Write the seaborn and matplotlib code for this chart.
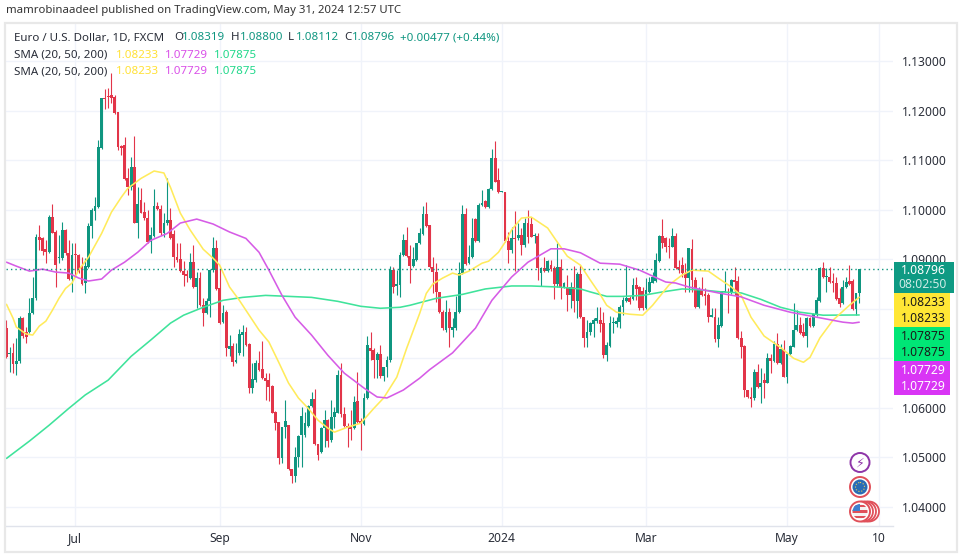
import numpy as np
import pandas as pd
import matplotlib
matplotlib.use("Agg")
import matplotlib.pyplot as plt
from matplotlib.patches import Rectangle, Circle
import seaborn as sns

# daily candles, EUR/USD Jun 2023 - May 2024
opens = [1.0761,1.0708,1.0710,1.0688,1.0694,1.0781,1.0753,1.0753,1.0791,1.0821,
1.0944,1.0942,1.0920,1.0914,1.0985,1.0954,1.0902,1.0902,1.0959,1.0912,
1.0860,1.0910,1.0908,1.0884,1.0852,1.0884,1.0967,1.0997,1.1005,1.1124,
1.1225,1.1229,1.1231,1.1227,1.1197,1.1128,1.1130,1.1063,1.1045,1.1086,
1.0973,1.1019,1.0995,1.0983,1.0934,1.0946,1.1007,1.1001,1.0952,1.0973,
1.0979,1.0950,1.0904,1.0900,1.0876,1.0870,1.0862,1.0894,1.0843,1.0862,
1.0807,1.0791,1.0815,1.0878,1.0922,1.0841,1.0773,1.0793,1.0718,1.0724,
1.0692,1.0710,1.0747,1.0753,1.0728,1.0640,1.0656,1.0690,1.0678,1.0660,
1.0656,1.0644,1.0591,1.0571,1.0498,1.0561,1.0565,1.0476,1.0462,1.0500,
1.0545,1.0545,1.0563,1.0603,1.0617,1.0527,1.0510,1.0559,1.0575,1.0535,
1.0581,1.0589,1.0666,1.0587,1.0563,1.0561,1.0559,1.0613,1.0573,1.0567,
1.0620,1.0720,1.0716,1.0696,1.0708,1.0664,1.0682,1.0696,1.0878,1.0845,
1.0848,1.0908,1.0938,1.0906,1.0886,1.0898,1.0932,1.0950,1.0991,1.0969,
1.0884,1.0874,1.0833,1.0793,1.0757,1.0793,1.0757,1.0761,1.0793,1.0872,
1.0991,1.0892,1.0904,1.0981,1.0936,1.1009,1.1017,1.1005,1.1041,1.1104,
1.1059,1.1035,1.1035,1.0936,1.0918,1.0942,1.0942,1.0948,1.0928,1.0973,
1.0971,1.0946,1.0946,1.0872,1.0882,1.0876,1.0888,1.0882,1.0850,1.0884,
1.0843,1.0841,1.0827,1.0843,1.0815,1.0870,1.0783,1.0741,1.0753,1.0769,
1.0775,1.0777,1.0771,1.0706,1.0724,1.0771,1.0769,1.0773,1.0803,1.0815,
1.0821,1.0819,1.0848,1.0843,1.0835,1.0801,1.0833,1.0852,1.0856,1.0896,
1.0946,1.0942,1.0926,1.0924,1.0946,1.0884,1.0888,1.0872,1.0862,1.0920,
1.0858,1.0803,1.0837,1.0829,1.0827,1.0783,1.0783,1.0739,1.0765,1.0833,
1.0833,1.0831,1.0858,1.0856,1.0741,1.0724,1.0636,1.0622,1.0620,1.0672,
1.0642,1.0656,1.0650,1.0700,1.0694,1.0728,1.0690,1.0718,1.0662,1.0708,
1.0722,1.0757,1.0767,1.0753,1.0745,1.0781,1.0765,1.0787,1.0815,1.0882,
1.0864,1.0864,1.0856,1.0852,1.0821,1.0811,1.0843,1.0856,1.0856,1.0799,
1.08319]
highs = [1.0777,1.0722,1.0730,1.0741,1.0785,1.0783,1.0763,1.0821,1.0864,1.0950,
1.0969,1.0944,1.0938,1.0989,1.1011,1.0959,1.0948,1.0975,1.0960,1.0938,
1.0932,1.0932,1.0910,1.0904,1.0902,1.0973,1.1003,1.1025,1.1140,1.1225,
1.1243,1.1245,1.1275,1.1231,1.1197,1.1130,1.1146,1.1084,1.1106,1.1148,
1.1045,1.1043,1.1015,1.0999,1.0965,1.1041,1.1015,1.1009,1.0993,1.1063,
1.1003,1.0959,1.0932,1.0932,1.0896,1.0878,1.0912,1.0928,1.0874,1.0874,
1.0821,1.0821,1.0880,1.0944,1.0938,1.0880,1.0807,1.0797,1.0747,1.0730,
1.0730,1.0759,1.0767,1.0763,1.0730,1.0690,1.0696,1.0714,1.0735,1.0670,
1.0670,1.0646,1.0593,1.0571,1.0561,1.0615,1.0565,1.0476,1.0521,1.0545,
1.0601,1.0591,1.0605,1.0632,1.0638,1.0527,1.0561,1.0595,1.0577,1.0615,
1.0601,1.0676,1.0690,1.0601,1.0569,1.0595,1.0624,1.0672,1.0579,1.0630,
1.0745,1.0753,1.0720,1.0712,1.0726,1.0682,1.0704,1.0886,1.0884,1.0878,
1.0914,1.0950,1.0965,1.0928,1.0924,1.0932,1.0963,1.1007,1.1015,1.0969,
1.0904,1.0892,1.0833,1.0797,1.0817,1.0801,1.0781,1.0825,1.0894,1.1009,
1.1003,1.0928,1.0983,1.0983,1.1013,1.1039,1.1019,1.1043,1.1122,1.1138,
1.1084,1.1037,1.1035,1.0954,1.0965,1.0997,1.0973,1.0963,1.0983,1.0999,
1.0985,1.0952,1.0952,1.0884,1.0904,1.0898,1.0898,1.0886,1.0932,1.0900,
1.0854,1.0868,1.0854,1.0886,1.0874,1.0888,1.0783,1.0777,1.0773,1.0781,
1.0803,1.0803,1.0793,1.0733,1.0785,1.0783,1.0783,1.0807,1.0823,1.0888,
1.0825,1.0862,1.0864,1.0845,1.0843,1.0862,1.0864,1.0874,1.0912,1.0948,
1.0981,1.0944,1.0942,1.0963,1.0952,1.0898,1.0904,1.0892,1.0922,1.0940,
1.0864,1.0843,1.0864,1.0841,1.0831,1.0801,1.0801,1.0783,1.0835,1.0876,
1.0841,1.0860,1.0884,1.0866,1.0755,1.0726,1.0636,1.0642,1.0678,1.0688,
1.0680,1.0670,1.0710,1.0708,1.0735,1.0751,1.0728,1.0737,1.0710,1.0726,
1.0811,1.0797,1.0783,1.0771,1.0783,1.0783,1.0791,1.0823,1.0884,1.0894,
1.0882,1.0884,1.0872,1.0864,1.0841,1.0858,1.0864,1.0888,1.0860,1.0831,
1.08800]
lows = [1.0701,1.0672,1.0670,1.0666,1.0690,1.0741,1.0730,1.0751,1.0789,1.0817,
1.0918,1.0908,1.0892,1.0912,1.0952,1.0843,1.0892,1.0898,1.0908,1.0858,
1.0833,1.0864,1.0872,1.0848,1.0831,1.0882,1.0942,1.0979,1.1003,1.1122,
1.1203,1.1205,1.1215,1.1193,1.1120,1.1110,1.1059,1.1029,1.1039,1.0973,
1.0942,1.0993,1.0979,1.0932,1.0912,1.0944,1.0999,1.0948,1.0944,1.0969,
1.0940,1.0884,1.0894,1.0874,1.0846,1.0854,1.0861,1.0841,1.0801,1.0805,
1.0765,1.0789,1.0783,1.0874,1.0837,1.0769,1.0771,1.0704,1.0704,1.0684,
1.0690,1.0706,1.0704,1.0724,1.0630,1.0630,1.0652,1.0674,1.0658,1.0615,
1.0613,1.0589,1.0555,1.0486,1.0488,1.0539,1.0474,1.0448,1.0450,1.0480,
1.0480,1.0541,1.0561,1.0601,1.0525,1.0494,1.0508,1.0521,1.0521,1.0531,
1.0559,1.0589,1.0581,1.0561,1.0521,1.0535,1.0557,1.0569,1.0515,1.0565,
1.0618,1.0696,1.0660,1.0660,1.0660,1.0654,1.0662,1.0692,1.0831,1.0827,
1.0823,1.0906,1.0905,1.0852,1.0884,1.0896,1.0930,1.0948,1.0965,1.0882,
1.0831,1.0813,1.0791,1.0757,1.0753,1.0722,1.0743,1.0757,1.0791,1.0870,
1.0888,1.0890,1.0902,1.0934,1.0934,1.1007,1.1003,1.1003,1.1039,1.1055,
1.1033,1.1035,1.0934,1.0892,1.0912,1.0876,1.0938,1.0908,1.0924,1.0932,
1.0944,1.0932,1.0858,1.0846,1.0874,1.0874,1.0876,1.0819,1.0843,1.0819,
1.0841,1.0795,1.0801,1.0793,1.0781,1.0781,1.0722,1.0722,1.0747,1.0743,
1.0771,1.0753,1.0700,1.0694,1.0722,1.0751,1.0763,1.0761,1.0787,1.0813,
1.0809,1.0817,1.0817,1.0797,1.0797,1.0799,1.0831,1.0852,1.0854,1.0894,
1.0922,1.0914,1.0902,1.0924,1.0880,1.0872,1.0864,1.0833,1.0833,1.0833,
1.0801,1.0801,1.0825,1.0807,1.0773,1.0783,1.0733,1.0722,1.0763,1.0833,
1.0791,1.0829,1.0827,1.0739,1.0700,1.0622,1.0620,1.0601,1.0615,1.0640,
1.0609,1.0620,1.0650,1.0670,1.0692,1.0688,1.0688,1.0662,1.0650,1.0706,
1.0722,1.0755,1.0749,1.0743,1.0722,1.0763,1.0763,1.0785,1.0813,1.0862,
1.0833,1.0852,1.0833,1.0817,1.0803,1.0809,1.0841,1.0848,1.0797,1.0787,
1.08112]
closes = [1.0702,1.0710,1.0688,1.0694,1.0781,1.0745,1.0743,1.0791,1.0821,1.0944,
1.0938,1.0916,1.0914,1.0985,1.0952,1.0888,1.0904,1.0959,1.0912,1.0860,
1.0908,1.0908,1.0874,1.0850,1.0886,1.0967,1.0999,1.1007,1.1126,1.1225,
1.1223,1.1227,1.1225,1.1195,1.1126,1.1124,1.1061,1.1045,1.1086,1.0973,
1.1011,1.0993,1.0983,1.0934,1.0948,1.1007,1.1001,1.0952,1.0973,1.0979,
1.0942,1.0904,1.0898,1.0876,1.0868,1.0866,1.0894,1.0843,1.0862,1.0807,
1.0791,1.0815,1.0878,1.0922,1.0839,1.0771,1.0791,1.0720,1.0724,1.0692,
1.0696,1.0749,1.0753,1.0726,1.0640,1.0658,1.0690,1.0676,1.0660,1.0654,
1.0642,1.0589,1.0569,1.0498,1.0561,1.0573,1.0476,1.0462,1.0500,1.0543,
1.0583,1.0569,1.0603,1.0617,1.0527,1.0504,1.0559,1.0575,1.0533,1.0581,
1.0591,1.0666,1.0587,1.0563,1.0561,1.0557,1.0611,1.0571,1.0569,1.0620,
1.0726,1.0714,1.0696,1.0708,1.0664,1.0682,1.0696,1.0878,1.0843,1.0850,
1.0908,1.0938,1.0906,1.0886,1.0900,1.0932,1.0952,1.0991,1.0967,1.0884,
1.0874,1.0833,1.0793,1.0761,1.0793,1.0761,1.0763,1.0793,1.0872,1.0991,
1.0890,1.0904,1.0942,1.0936,1.1009,1.1013,1.1005,1.1041,1.1104,1.1055,
1.1035,1.1037,1.0936,1.0918,1.0942,1.0940,1.0948,1.0928,1.0973,1.0944,
1.0944,1.0948,1.0882,1.0882,1.0876,1.0896,1.0880,1.0850,1.0884,1.0843,
1.0852,1.0827,1.0843,1.0815,1.0870,1.0783,1.0741,1.0753,1.0771,1.0777,
1.0781,1.0769,1.0706,1.0726,1.0771,1.0773,1.0775,1.0803,1.0817,1.0821,
1.0813,1.0848,1.0839,1.0801,1.0801,1.0837,1.0854,1.0864,1.0898,1.0946,
1.0932,1.0924,1.0924,1.0946,1.0882,1.0880,1.0872,1.0862,1.0922,1.0858,
1.0803,1.0837,1.0827,1.0825,1.0783,1.0787,1.0739,1.0767,1.0835,1.0835,
1.0831,1.0858,1.0854,1.0741,1.0722,1.0636,1.0622,1.0617,1.0672,1.0642,
1.0650,1.0650,1.0700,1.0694,1.0728,1.0690,1.0718,1.0662,1.0708,1.0724,
1.0757,1.0767,1.0751,1.0745,1.0781,1.0765,1.0789,1.0817,1.0882,1.0864,
1.0866,1.0854,1.0852,1.0819,1.0809,1.0843,1.0854,1.0850,1.0799,1.0831,
1.08796]

sma20_bar = [0,2,3,6,8,10,12,14,16,18,20,22,25,29,32,35,37,41,45,48,50,53,56,60,63,65,68,71,73,77,80,83,86,89,92,95,98,100,104,108,112,115,119,122,126,128,130,133,136,138,141,145,147,150,152,154,157,160,165,168,171,175,178,181,183,186,190,194,197,202,206,209,214,217,221,224,227,231,236,240,243,245,248,252,257,260]
sma20_val = [1.0809,1.0781,1.0763,1.0749,1.0747,1.0765,1.0775,1.0797,1.0821,1.0841,1.0852,1.0878,1.0904,1.0952,1.0995,1.1025,1.1043,1.1063,1.1078,1.1074,1.1045,1.0993,1.0959,1.0920,1.0902,1.0888,1.0844,1.0817,1.0797,1.0757,1.0733,1.0692,1.0650,1.0620,1.0599,1.0575,1.0559,1.0551,1.0561,1.0569,1.0599,1.0620,1.0662,1.0720,1.0791,1.0831,1.0850,1.0862,1.0872,1.0868,1.0876,1.0892,1.0896,1.0914,1.0934,1.0959,1.0983,1.0985,1.0963,1.0934,1.0906,1.0888,1.0858,1.0829,1.0807,1.0793,1.0789,1.0787,1.0807,1.0848,1.0868,1.0878,1.0876,1.0862,1.0844,1.0827,1.0783,1.0745,1.0722,1.0700,1.0692,1.0702,1.0741,1.0777,1.0807,1.08233]
sma50_bar = [0,3,7,11,15,19,22,25,29,32,36,40,44,49,53,58,63,68,73,77,80,84,88,93,98,103,109,113,116,121,126,129,136,143,148,154,159,166,170,175,181,187,193,201,204,208,217,224,231,239,247,255,258,260]
sma50_val = [1.0894,1.0886,1.0876,1.0880,1.0874,1.0872,1.0862,1.0856,1.0860,1.0878,1.0894,1.0914,1.0938,1.0952,1.0973,1.0981,1.0971,1.0955,1.0942,1.0914,1.0878,1.0827,1.0783,1.0747,1.0706,1.0670,1.0640,1.0622,1.0620,1.0636,1.0660,1.0677,1.0711,1.0761,1.0817,1.0864,1.0894,1.0921,1.0921,1.0913,1.0892,1.0890,1.0878,1.0854,1.0852,1.0844,1.0832,1.0824,1.0807,1.0793,1.0783,1.0773,1.0771,1.07729]
sma200_bar = [0,7,13,19,24,31,38,44,50,54,60,66,72,79,86,93,101,108,114,120,123,131,139,146,154,160,168,175,178,183,188,194,200,206,212,218,224,230,236,242,249,260]
sma200_val = [1.0498,1.0533,1.0565,1.0599,1.0626,1.0656,1.0704,1.0737,1.0771,1.0787,1.0803,1.0817,1.0823,1.0827,1.0825,1.0823,1.0815,1.0805,1.0801,1.0803,1.0807,1.0821,1.0829,1.0840,1.0846,1.0846,1.0844,1.0840,1.0834,1.0825,1.0825,1.0827,1.0834,1.0840,1.0838,1.0834,1.0832,1.0819,1.0803,1.0793,1.0787,1.07875]

price_ticks = [1.04,1.05,1.06,1.07,1.08,1.09,1.10,1.11,1.12,1.13]
# 1.07000 and 1.08000 sit under the price tags, so no label for them
price_labels = ["1.04000","1.05000","1.06000","","","1.09000","1.10000","1.11000","1.12000","1.13000"]
time_ticks = [21,65,108,151,195,238,266]
time_labels = ["Jul","Sep","Nov","2024","Mar","May","10"]

GREEN = "#0f9680"
RED = "#e23549"
YELLOW = "#ffeb5c"
MAGENTA = "#d65ce6"
LIME = "#3fe39b"
TEXT = "#2a2e39"

sns.set_theme(style="whitegrid", rc={"grid.color": "#f0f3fa", "grid.linewidth": 1.0})
plt.rcParams["font.family"] = ["Noto Sans", "DejaVu Sans"]

df = pd.DataFrame({"open": opens, "high": highs, "low": lows, "close": closes})
df["bar"] = df.index
df["color"] = np.where(df["close"] >= df["open"], GREEN, RED)

W, H = 962, 560
fig = plt.figure(figsize=(W / 100, H / 100), dpi=100)
fig.patch.set_facecolor("white")
ax = fig.add_axes([6 / W, (H - 526) / H, 887 / W, 502 / H])
ax.set_axisbelow(True)

# candles
ax.vlines(df["bar"], df["low"], df["high"], colors=df["color"], linewidth=0.8, zorder=2)
ax.bar(df["bar"], (df["close"] - df["open"]).abs().clip(lower=0.0003),
       bottom=df[["open", "close"]].min(axis=1), width=0.86, color=df["color"], linewidth=0, zorder=3)

# moving averages
sns.lineplot(x=sma200_bar, y=sma200_val, ax=ax, color=LIME, linewidth=1.15, zorder=4)
sns.lineplot(x=sma20_bar, y=sma20_val, ax=ax, color=YELLOW, linewidth=1.15, zorder=5)
sns.lineplot(x=sma50_bar, y=sma50_val, ax=ax, color=MAGENTA, linewidth=1.15, zorder=6)

ax.axhline(closes[-1], color=GREEN, linestyle=(0, (1, 2.2)), linewidth=1.0, zorder=7)

ax.set_xlim(-0.15, 270.3)
ax.set_ylim(1.03616, 1.13747)
ax.yaxis.tick_right()
ax.set_yticks(price_ticks)
ax.set_yticklabels(price_labels, fontsize=8.7, color=TEXT)
ax.set_xticks(time_ticks)
ax.set_xticklabels(time_labels, fontsize=8.7, color=TEXT)
ax.get_xticklabels()[3].set_fontweight("bold")
ax.tick_params(axis="y", length=0, pad=6.5)
ax.tick_params(axis="x", length=0, pad=4)
ax.grid(True)
for side in ["top", "left", "right"]:
    ax.spines[side].set_visible(False)
ax.spines["bottom"].set_color("#e0e3eb")
ax.spines["bottom"].set_linewidth(1.0)

# page furniture on top, in pixels
top = fig.add_axes([0, 0, 1, 1])
top.set_xlim(0, W)
top.set_ylim(H, 0)
top.axis("off")
top.patch.set_alpha(0)

top.add_patch(Rectangle((5.5, 23), 951.5, 529, fill=False, edgecolor="#e8e8e8", linewidth=1.6))
top.text(6, 10.5, "mamrobinaadeel published on TradingView.com, May 31, 2024 12:57 UTC",
         fontsize=8.2, color="#333333", va="center")

fs = 8.3
top.text(14, 38, "Euro / U.S. Dollar, 1D, FXCM", fontsize=fs, color=TEXT, va="center")
ohlc = [(174, "O", 182, "1.08319"), (231, "H", 240, "1.08800"),
        (288, "L", 296, "1.08112"), (344, "C", 352, "1.08796")]
for lx, letter, vx, val in ohlc:
    top.text(lx, 38, letter, fontsize=fs, color=TEXT, va="center")
    top.text(vx, 38, val, fontsize=fs, color=GREEN, va="center")
top.text(400, 38, "+0.00477 (+0.44%)", fontsize=fs, color=GREEN, va="center")
for row_y in [55, 72]:
    top.text(14, row_y, "SMA (20, 50, 200)", fontsize=fs, color=TEXT, va="center")
    top.text(116, row_y, "1.08233", fontsize=fs, color="#ffe135", va="center")
    top.text(165, row_y, "1.07729", fontsize=fs, color="#d94fe8", va="center")
    top.text(214, row_y, "1.07875", fontsize=fs, color="#1fd88a", va="center")

# price tags on the scale
tags = [(262, 31, 60, "#0e9a83", "1.08796", "08:02:50", "white"),
        (293, 34, 56, "#ffe735", "1.08233", "1.08233", "#1a1a1a"),
        (327, 34, 56, "#00e676", "1.07875", "1.07875", "#1a1a1a"),
        (361, 34, 56, "#d935f5", "1.07729", "1.07729", "white")]
for ty, th, tw, bg, line1, line2, fg in tags:
    top.add_patch(Rectangle((894, ty), tw, th, facecolor=bg, edgecolor="none"))
    top.text(923, ty + th * 0.29, line1, fontsize=8.7, color=fg, ha="center", va="center")
    top.text(923, ty + th * 0.74, line2, fontsize=8.7, color=fg, ha="center", va="center",
             alpha=0.8 if line2 == "08:02:50" else 1)

# event badges
top.add_patch(Circle((860, 462.5), 9.5, facecolor="white", edgecolor="#8e35a8", linewidth=1.4))
top.text(860, 463, "\u26a1", fontsize=9, color="#8e35a8", ha="center", va="center",
         family=["DejaVu Sans"])
top.add_patch(Circle((860, 487), 10, facecolor="white", edgecolor="#e0505a", linewidth=1.4))
top.add_patch(Circle((860, 487), 7.5, facecolor="#2a6cb5", edgecolor="none"))
top.add_patch(Circle((860, 487), 4.5, fill=False, edgecolor="#e8c95a", linewidth=0.8, linestyle=":"))
for cx in [869, 866, 863]:
    top.add_patch(Circle((cx, 511.5), 10, facecolor="white", edgecolor="#e0505a", linewidth=1.3))
top.add_patch(Circle((860, 511.5), 10, facecolor="white", edgecolor="#e0505a", linewidth=1.4))
flag = Circle((860, 511.5), 7.5, facecolor="#f3f3f3", edgecolor="none")
top.add_patch(flag)
for sy in [506, 511.5, 517]:
    stripe = Rectangle((852, sy - 1.3), 16, 2.6, facecolor="#e0505a", edgecolor="none")
    top.add_patch(stripe)
    stripe.set_clip_path(flag)
canton = Rectangle((852, 504), 8, 7, facecolor="#3d7fd0", edgecolor="none")
top.add_patch(canton)
canton.set_clip_path(flag)

fig.savefig("out.png", dpi=100)
